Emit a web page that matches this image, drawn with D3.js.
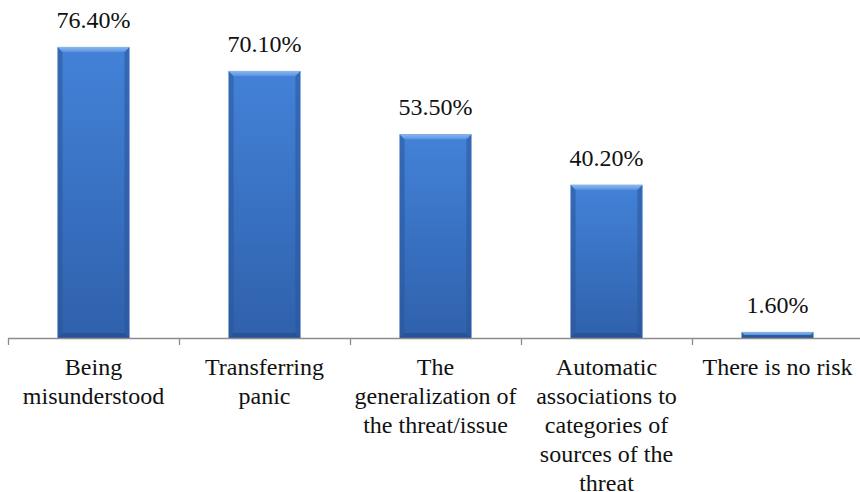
<!DOCTYPE html>
<html lang="en">
<head>
<meta charset="utf-8">
<title>Risks</title>
<script src="https://cdn.jsdelivr.net/npm/d3@7"></script>
<style>
  body { margin: 0; background: #fff; }
</style>
</head>
<body>
<div id="chart"></div>
<script>
// data
var categories = [
  "Being\nmisunderstood",
  "Transferring\npanic",
  "The\ngeneralization of\nthe threat/issue",
  "Automatic\nassociations to\ncategories of\nsources of the\nthreat",
  "There is no risk"
];
var values = [76.4, 70.1, 53.5, 40.2, 1.6];
var valueLabels = ["76.40%", "70.10%", "53.50%", "40.20%", "1.60%"];

var width = 860, height = 492;
var baseY = 338;
var serif = "Liberation Serif, DejaVu Serif, serif";

var svg = d3.select("#chart").append("svg")
  .attr("width", width).attr("height", height)
  .style("font-family", serif);

var x = d3.scaleBand().domain(categories).range([8, 863]).padding(0);
var y = d3.scaleLinear().domain([0, 80]).range([baseY, baseY - 80 * 3.81]);
var barW = x.bandwidth() * 0.42;

// gradients
var defs = svg.append("defs");
var g1 = defs.append("linearGradient").attr("id", "body").attr("x1", 0).attr("y1", 0).attr("x2", 0).attr("y2", 1);
g1.append("stop").attr("offset", "0%").attr("stop-color", "#4382d8");
g1.append("stop").attr("offset", "100%").attr("stop-color", "#2f61ac");
var g2 = defs.append("linearGradient").attr("id", "top").attr("x1", 0).attr("y1", 0).attr("x2", 0).attr("y2", 1);
g2.append("stop").attr("offset", "0%").attr("stop-color", "#8cb8ee");
g2.append("stop").attr("offset", "100%").attr("stop-color", "#5a93e0");

var bars = svg.selectAll(".bar")
  .data(values)
  .enter().append("g")
  .attr("class", "bar");

bars.each(function(d, i) {
  var g = d3.select(this);
  var x0 = x(categories[i]) + (x.bandwidth() - barW) / 2;
  var x1 = x0 + barW;
  var y0 = y(d), y1 = y(0);
  var b = Math.min(5, (y1 - y0) / 2);
  g.append("rect").attr("x", x0).attr("y", y0).attr("width", barW).attr("height", y1 - y0)
    .attr("fill", "url(#body)");
  // side bevels
  g.append("polygon").attr("points", [[x0, y0], [x0 + b, y0 + b], [x0 + b, y1 - b], [x0, y1]].join(" "))
    .attr("fill", "#2a5699").attr("opacity", 0.55);
  g.append("polygon").attr("points", [[x1, y0], [x1 - b, y0 + b], [x1 - b, y1 - b], [x1, y1]].join(" "))
    .attr("fill", "#2a5699").attr("opacity", 0.55);
  g.append("polygon").attr("points", [[x0, y1], [x0 + b, y1 - b], [x1 - b, y1 - b], [x1, y1]].join(" "))
    .attr("fill", "#1f4680").attr("opacity", 0.5);
  // top bevel
  g.append("polygon").attr("points", [[x0, y0], [x1, y0], [x1 - b, y0 + b], [x0 + b, y0 + b]].join(" "))
    .attr("fill", "url(#top)");
});

// value labels
svg.selectAll(".val")
  .data(values)
  .enter().append("text")
  .attr("class", "val")
  .attr("x", function(d, i) { return x(categories[i]) + x.bandwidth() / 2; })
  .attr("y", function(d) { return y(d) - 19; })
  .attr("text-anchor", "middle")
  .style("font-size", "24px")
  .attr("fill", "#111")
  .text(function(d, i) { return valueLabels[i]; });

// axis
var axis = svg.append("g").attr("transform", "translate(0," + baseY + ")");
axis.append("line").attr("x1", 8).attr("x2", 863).attr("y1", 0.5).attr("y2", 0.5)
  .attr("stroke", "#8c8c8c").attr("stroke-width", 1.3);
var ticks = categories.map(function(c) { return x(c); });
axis.selectAll(".tick")
  .data(ticks)
  .enter().append("line")
  .attr("x1", function(d) { return Math.round(d) + 0.5; })
  .attr("x2", function(d) { return Math.round(d) + 0.5; })
  .attr("y1", 0).attr("y2", 7)
  .attr("stroke", "#8c8c8c").attr("stroke-width", 1.3);

// category labels
var labels = svg.selectAll(".cat")
  .data(categories)
  .enter().append("text")
  .attr("class", "cat")
  .attr("text-anchor", "middle")
  .style("font-size", "24px")
  .attr("fill", "#111");
labels.each(function(c) {
  var t = d3.select(this);
  c.split("\n").forEach(function(line, j) {
    t.append("tspan")
      .attr("x", x(c) + x.bandwidth() / 2)
      .attr("y", 375 + j * 29)
      .text(line);
  });
});
</script>
</body>
</html>
